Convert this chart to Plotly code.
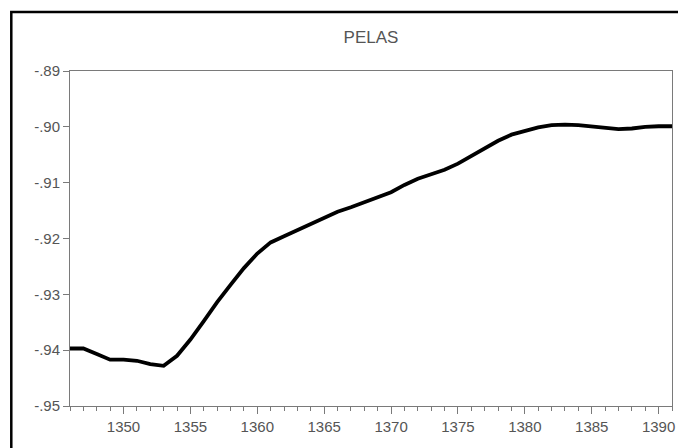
import plotly.graph_objects as go

years = list(range(1346, 1392))
pelas = [
    -0.9397, -0.9397, -0.9407, -0.9417, -0.9417, -0.9419, -0.9425, -0.9428,
    -0.9410, -0.9381, -0.9348, -0.9314, -0.9283, -0.9253, -0.9227, -0.9207,
    -0.9196, -0.9185, -0.9174, -0.9163, -0.9152, -0.9144, -0.9135, -0.9127,
    -0.9117, -0.9104, -0.9093, -0.9085, -0.9077, -0.9066, -0.9052, -0.9038,
    -0.9025, -0.9014, -0.9007, -0.9001, -0.8997, -0.8996, -0.8997, -0.8999,
    -0.9002, -0.9004, -0.9003, -0.9000, -0.8999, -0.8999,
]
y_ticks = [-0.89, -0.90, -0.91, -0.92, -0.93, -0.94, -0.95]
y_labels = ["-.89", "-.90", "-.91", "-.92", "-.93", "-.94", "-.95"]
x_ticks = [1350, 1355, 1360, 1365, 1370, 1375, 1380, 1385, 1390]
title = "PELAS"

fig = go.Figure()
fig.add_trace(go.Scatter(
    x=years, y=pelas, mode="lines",
    line=dict(color="black", width=3.8),
    showlegend=False, hoverinfo="skip",
))

axis_color = "#7a7a7a"
font_color = "#555555"

# page body has an 8px margin, so the figure is sized/offset to compensate
W, H = 678, 440
fig.update_layout(
    width=W, height=H,
    margin=dict(l=62, r=11, t=63, b=42),
    paper_bgcolor="white", plot_bgcolor="white",
    font=dict(family="Liberation Sans, Arial, sans-serif", size=15, color=font_color),
    title=dict(text=title, x=0.5, xref="paper", xanchor="center",
               y=1 - 29 / H, yref="container", yanchor="middle",
               font=dict(size=17, color=font_color)),
    xaxis=dict(
        range=[1346, 1391], tickmode="array", tickvals=x_ticks,
        ticks="outside", ticklen=7, tickwidth=1, tickcolor=axis_color,
        showline=True, linecolor=axis_color, linewidth=1, mirror=True,
        showgrid=False, zeroline=False,
        minor=dict(dtick=1, tick0=1346, ticks="outside", ticklen=4,
                   tickcolor=axis_color, tickwidth=1, showgrid=False),
        tickfont=dict(size=15, color=font_color),
    ),
    yaxis=dict(
        range=[-0.95, -0.89], tickmode="array", tickvals=y_ticks, ticktext=y_labels,
        ticks="outside", ticklen=6, tickwidth=1, tickcolor=axis_color,
        showline=True, linecolor=axis_color, linewidth=1, mirror=True,
        showgrid=False, zeroline=False,
        tickfont=dict(size=15, color=font_color),
    ),
)

# outer black frame (extends past the right and bottom of the picture)
fig.add_shape(type="rect", xref="paper", yref="paper",
              x0=(11 - 70) / 605, x1=1.1, y0=-0.3, y1=1 + (71 - 12) / 335,
              line=dict(color="black", width=2.5), layer="above")

fig.write_html("out.html")
